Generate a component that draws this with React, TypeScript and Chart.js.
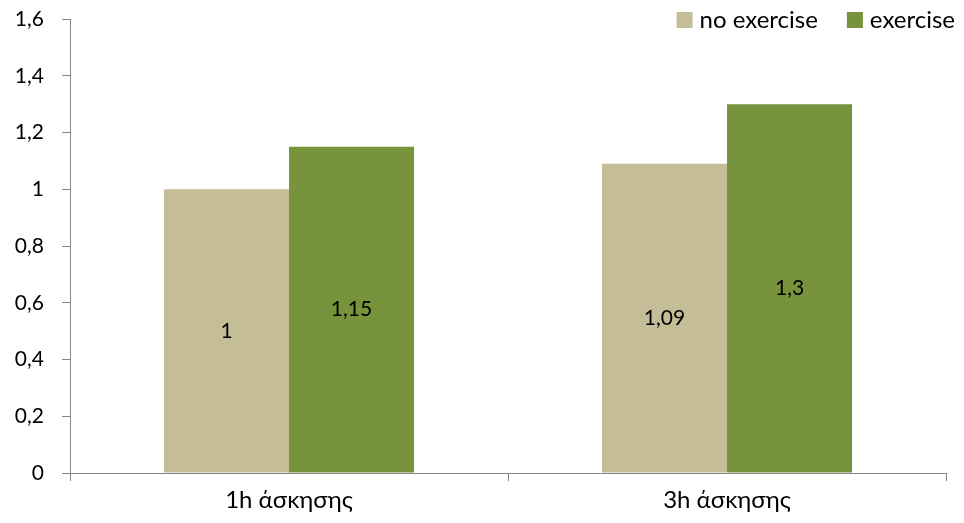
import React, { useEffect, useRef } from "react";
import { Chart, registerables } from "chart.js";

Chart.register(...registerables);

const categories = ["1h άσκησης", "3h άσκησης"];
const seriesNames = ["no exercise", "exercise"];
const noExercise = [1, 1.09];
const exercise = [1.15, 1.3];
const colors = ["#C4BD97", "#77933C"];
const yMax = 1.6;
const yStep = 0.2;

const FONT = "Lato, 'Open Sans', sans-serif";
const AXIS = "#868686";
const NUM_SIZE = 21;
const TEXT_SIZE = 24;

const fmt = (v: number) => String(Math.round(v * 100) / 100).replace(".", ",");

const labelPlugin = {
  id: "barLabels",
  afterDatasetsDraw(chart: any) {
    const ctx = chart.ctx;
    ctx.save();
    ctx.font = `${NUM_SIZE}px ${FONT}`;
    ctx.fillStyle = "#000";
    ctx.textAlign = "center";
    ctx.textBaseline = "middle";
    chart.data.datasets.forEach((ds: any, i: number) => {
      const meta = chart.getDatasetMeta(i);
      meta.data.forEach((bar: any, j: number) => {
        const y = (bar.y + bar.base) / 2;
        ctx.fillText(fmt(ds.data[j]), bar.x, y);
      });
    });
    ctx.restore();
  },
};

const legendPlugin = {
  id: "customLegend",
  afterDraw(chart: any) {
    const ctx = chart.ctx;
    ctx.save();
    ctx.font = `${TEXT_SIZE}px ${FONT}`;
    ctx.textBaseline = "middle";
    ctx.textAlign = "left";
    const right = chart.width - 9;
    const y = 20;
    const box = 16;
    const gap = 7;
    const between = 29;
    const widths = seriesNames.map((n) => ctx.measureText(n).width);
    let total = 0;
    widths.forEach((w, i) => {
      total += box + gap + w + (i < widths.length - 1 ? between : 0);
    });
    let x = right - total;
    seriesNames.forEach((n, i) => {
      ctx.fillStyle = colors[i];
      ctx.fillRect(x, y - box / 2, box, box);
      ctx.fillStyle = "#000";
      ctx.fillText(n, x + box + gap, y);
      x += box + gap + widths[i] + between;
    });
    ctx.restore();
  },
};

export default function App() {
  const ref = useRef<HTMLCanvasElement>(null);
  useEffect(() => {
    document.body.style.margin = "0";
    const chart = new Chart(ref.current!, {
      type: "bar",
      data: {
        labels: categories,
        datasets: [
          { label: seriesNames[0], data: noExercise, backgroundColor: colors[0] },
          { label: seriesNames[1], data: exercise, backgroundColor: colors[1] },
        ],
      },
      options: {
        animation: false,
        responsive: false,
        maintainAspectRatio: false,
        layout: { padding: { top: 19, right: 18, left: 0, bottom: 0 } },
        plugins: { legend: { display: false }, tooltip: { enabled: false } },
        datasets: { bar: { categoryPercentage: 0.571, barPercentage: 1 } },
        scales: {
          x: {
            grid: {
              display: true,
              drawOnChartArea: false,
              offset: true,
              tickLength: 8,
              color: AXIS,
            },
            border: { display: true, color: AXIS, width: 1 },
            ticks: { color: "#000", font: { family: FONT, size: TEXT_SIZE }, padding: 5 },
            afterFit: (s: any) => {
              s.height = 50;
              s.paddingLeft = 0;
              s.paddingRight = 0;
            },
          },
          y: {
            min: 0,
            max: yMax,
            grid: {
              display: true,
              drawOnChartArea: false,
              tickLength: 8,
              color: AXIS,
            },
            border: { display: true, color: AXIS, width: 1 },
            ticks: {
              stepSize: yStep,
              color: "#000",
              font: { family: FONT, size: NUM_SIZE },
              padding: 18,
              callback: (v: any) => fmt(Number(v)),
            },
            afterFit: (s: any) => {
              s.width = 70;
              s.paddingTop = 0;
              s.paddingBottom = 0;
            },
          },
        },
      },
      plugins: [labelPlugin, legendPlugin],
    });
    return () => chart.destroy();
  }, []);
  return <canvas ref={ref} width={964} height={523} style={{ display: "block" }} />;
}
